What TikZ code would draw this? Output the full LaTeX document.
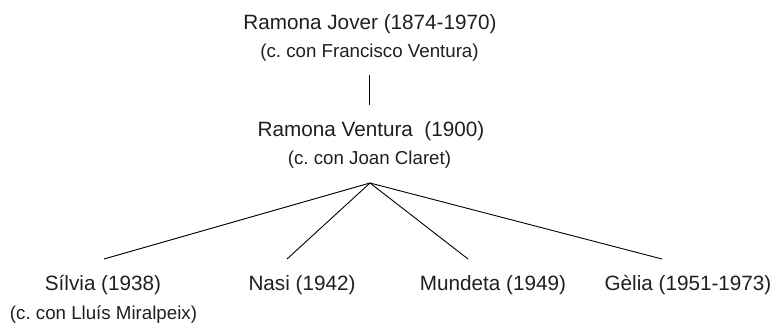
\documentclass[tikz,border=0pt]{standalone}
\usepackage{fontspec}
\setmainfont{Liberation Sans}
\frenchspacing
\begin{document}
\begin{tikzpicture}[x=1pt,y=1pt,
  main/.style={anchor=base,inner sep=0pt,font=\fontsize{20.7}{24}\selectfont,text=black!88},
  sub/.style={anchor=base,inner sep=0pt,font=\fontsize{18.7}{22}\selectfont,text=black!88},
  link/.style={line width=0.9pt,black}]
\useasboundingbox (0,0) rectangle (771,322);
% text nodes (baselines)
\node[main] (jover) at (370,{322-29.5}) {Ramona Jover (1874-1970)};
\node[sub] (joversp) at (369.5,{322-57.5}) {(c.\ con Francisco Ventura)};
\node[main] (ventura) at (371,{322-136}) {Ramona Ventura\ \ (1900)};
\node[sub] (venturasp) at (369.5,{322-164}) {(c.\ con Joan Claret)};
\node[main] (silvia) at (103,{322-290.5}) {Sílvia (1938)};
\node[sub] (silviasp) at (103.5,{322-319.5}) {(c.\ con Lluís Miralpeix)};
\node[main] (nasi) at (302,{322-290.5}) {Nasi (1942)};
\node[main] (mundeta) at (493,{322-290.5}) {Mundeta (1949)};
\node[main] (gelia) at (688,{322-290.5}) {Gèlia (1951-1973)};
% connector points
\coordinate (vtop) at (369,{322-75});
\coordinate (vbot) at (369,{322-105});
\coordinate (apex) at (370,{322-183});
\coordinate (silviatop) at (104,{322-259});
\coordinate (nasitop) at (287,{322-259});
\coordinate (mundetatop) at (468,{322-259});
\coordinate (geliatop) at (662,{322-259});
\draw[link] (vtop) -- (vbot);
\draw[link] (apex) -- (silviatop);
\draw[link] (apex) -- (nasitop);
\draw[link] (apex) -- (mundetatop);
\draw[link] (apex) -- (geliatop);
\end{tikzpicture}
\end{document}
